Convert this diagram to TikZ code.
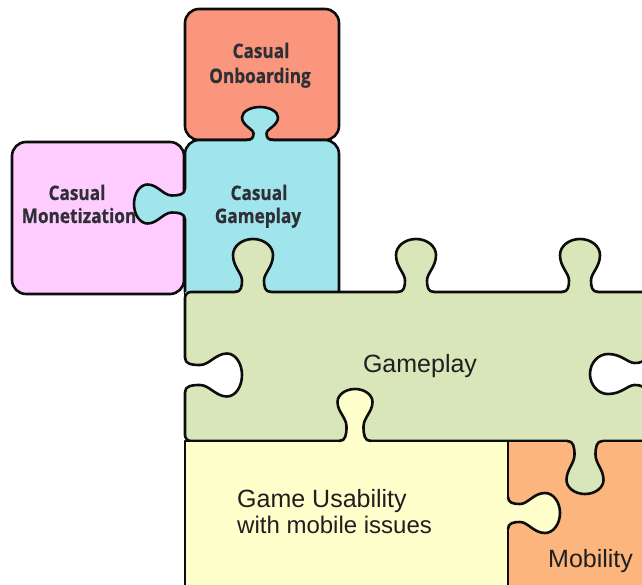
\documentclass[tikz,border=0pt]{standalone}
\usepackage{fontspec}
\setmainfont{Liberation Sans}
\newfontfamily\tagfont{Open Sans}[FakeStretch=0.86, BoldFeatures={FakeBold=0.6}]

\definecolor{onbc}{HTML}{FA967D}
\definecolor{cgc}{HTML}{A0E4EC}
\definecolor{monc}{HTML}{FFCCFF}
\definecolor{gpc}{HTML}{D8E6B9}
\definecolor{usec}{HTML}{FFFFCC}
\definecolor{mobc}{HTML}{FBB57D}
\definecolor{tagtext}{HTML}{2E3036}
\definecolor{edge}{HTML}{0D0D0D}

\tikzset{
  piece line/.style={draw=edge, line width=2.6pt, line join=round, line cap=round},
  tag/.style={font=\tagfont\bfseries\fontsize{20}{24}\selectfont, text=tagtext, inner sep=0pt, anchor=base},
  bigtag/.style={font=\fontsize{25}{30}\selectfont, text=black!88, inner sep=0pt},
}

% Outline of a puzzle knob: base centred at the origin, pointing to local -y.
% Uses \kN (neck half-width), \kD (head centre distance), \kW (head half-width),
% \kH (head half-depth) and the derived values below.
\newcommand{\knobpath}{%
  (-\kNo,0) .. controls (-\kNi,0) and (-\kN,-\kA) .. (-\kN,-\kB)
  .. controls (-\kN,-\kC) and (-\kW,-\kE) .. (-\kW,-\kD)
  .. controls (-\kW,-\kF) and (-\kWs,-\kT) .. (0,-\kT)
  .. controls (\kWs,-\kT) and (\kW,-\kF) .. (\kW,-\kD)
  .. controls (\kW,-\kE) and (\kN,-\kC) .. (\kN,-\kB)
  .. controls (\kN,-\kA) and (\kNi,0) .. (\kNo,0)}

% \puzzleknob{x}{y}{rotation}{fill}{neck}{dist}{head w}{head d}
\newcommand{\puzzleknob}[8]{%
  \begin{scope}[shift={(#1,#2)}, rotate=#3]
    \pgfmathsetmacro\kN{#5}
    \pgfmathsetmacro\kD{#6}
    \pgfmathsetmacro\kW{#7}
    \pgfmathsetmacro\kNo{#5+7}
    \pgfmathsetmacro\kNi{#5+1}
    \pgfmathsetmacro\kA{0.25*(#6-#8)}
    \pgfmathsetmacro\kB{0.55*(#6-#8)}
    \pgfmathsetmacro\kC{0.9*(#6-#8)}
    \pgfmathsetmacro\kE{#6-0.75*#8}
    \pgfmathsetmacro\kF{#6+0.55*#8}
    \pgfmathsetmacro\kT{#6+#8}
    \pgfmathsetmacro\kWs{0.55*#7}
    \fill[#4] \knobpath -- (\kNo,3) -- (-\kNo,3) -- cycle;
    \draw[piece line] \knobpath;
  \end{scope}}

\begin{document}
\begin{tikzpicture}[x=1pt, y=-1pt]
  \useasboundingbox (0,0) rectangle (642,585);
  \fill[white] (0,0) rectangle (642,585);

  % square pieces
  \filldraw[piece line, fill=onbc, rounded corners=14pt] (185,9) rectangle (339,140);
  \filldraw[piece line, fill=monc, rounded corners=14pt] (12,142) rectangle (184,294);
  \filldraw[piece line, fill=cgc, rounded corners=14pt] (185,140) rectangle (339,305);

  % wide Gameplay strip, running past the right edge
  \fill[gpc] (185,292) rectangle (660,441);
  \draw[piece line, rounded corners=6pt] (660,292) -- (185,292) -- (185,441) -- (660,441);

  % lower pieces, running past the bottom edge
  \fill[usec] (185,441) rectangle (508,600);
  \draw[piece line] (185,600) -- (185,441) -- (508,441);
  \fill[mobc] (508,441) rectangle (660,600);
  \draw[piece line] (508,600) -- (508,441) -- (660,441);

  % knobs
  \puzzleknob{260}{140}{0}{cgc}{6.5}{22.5}{18}{10.5}
  \puzzleknob{185}{204}{90}{cgc}{8.5}{37.5}{19.5}{13.5}
  \puzzleknob{253}{292}{0}{gpc}{11}{37}{20}{16}
  \puzzleknob{416}{292}{0}{gpc}{11}{37}{20}{16}
  \puzzleknob{580}{292}{0}{gpc}{11}{37}{20}{16}
  \puzzleknob{355}{441}{0}{usec}{8.5}{39}{17.5}{13}
  \puzzleknob{585}{441}{180}{gpc}{10.5}{39}{18.5}{14}
  \puzzleknob{508}{513}{-90}{usec}{9}{37}{20}{15}
  % empty sockets
  \puzzleknob{185}{375}{-90}{white}{10}{42}{21.5}{15}
  \puzzleknob{645}{374}{90}{white}{11}{37}{20}{18}

  % labels
  \node[tag] (onbA) at (261,58) {Casual};
  \node[tag] (onbB) at (260,83) {Onboarding};
  \node[tag] (cgA) at (259,200) {Casual};
  \node[tag] (cgB) at (258,223) {Gameplay};
  \node[tag] (monA) at (77,200) {Casual};
  \node[tag] (monB) at (79,223) {Monetization};

  \node[bigtag, anchor=base] (gp) at (420,372) {Gameplay};
  \node[bigtag, anchor=base west] (guA) at (237,507) {Game Usability};
  \node[bigtag, anchor=base west, font=\fontsize{24}{28}\selectfont] (guB) at (237,533) {with mobile issues};
  \node[bigtag, anchor=base west] (mob) at (548,567) {Mobility};
\end{tikzpicture}
\end{document}
